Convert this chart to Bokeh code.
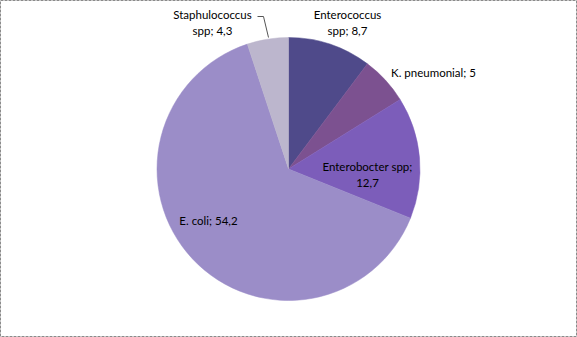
import numpy as np
from bokeh.plotting import figure
from bokeh.models import Range1d, ColumnDataSource
from bokeh.core.properties import value
from bokeh.embed import file_html
from bokeh.resources import INLINE

# ---- data ----
names = ["Enterococcus spp", "K. pneumonial", "Enterobocter spp", "E. coli", "Staphulococcus spp"]
values = [8.7, 5, 12.7, 54.2, 4.3]
colors = ["#4f4a8a", "#7c5190", "#7c5dba", "#9b8dc8", "#bcb6cd"]

# ---- layout (pixel coords, top-left origin) ----
W, H = 577, 337
CX, CY, R = 288, 168.5, 131.5
wrap = ["first", None, "last", None, "first"]
label_pos = [(347, 22), (433, 72), (367, 174), (208, 220), (212, 22)]
leader = [(257, 16), (263, 16), (268, 37)]

def fmt(v):
    return f"{v:g}".replace(".", ",")

def make_label(name, v, w):
    s = f"{name}; {fmt(v)}"
    if w == "first":
        i = s.index(" ")
        s = s[:i] + "\n" + s[i + 1:]
    elif w == "last":
        i = s.rindex(" ")
        s = s[:i] + "\n" + s[i + 1:]
    return s

vals = np.array(values, dtype=float)
frac = vals / vals.sum()
cum = np.concatenate([[0], np.cumsum(frac)])
start = np.pi / 2 - cum[1:] * 2 * np.pi
end = np.pi / 2 - cum[:-1] * 2 * np.pi

src = ColumnDataSource(dict(start=start, end=end, color=colors))

p = figure(width=W, height=H, output_backend="svg", toolbar_location=None,
           x_range=Range1d(0, W), y_range=Range1d(0, H), min_border=0)
p.axis.visible = False
p.grid.visible = False
p.outline_line_color = "#8a8a8a"
p.outline_line_dash = "3 1"
p.outline_line_width = 1
p.background_fill_color = "white"
p.border_fill_color = "white"

p.wedge(x=CX, y=H - CY, radius=R, start_angle="start", end_angle="end",
        fill_color="color", line_color="color", line_width=0.5, source=src)

lsrc = ColumnDataSource(dict(
    x=[q[0] for q in label_pos],
    y=[H - q[1] for q in label_pos],
    text=[make_label(n, v, w) for n, v, w in zip(names, values, wrap)],
))
p.text(x="x", y="y", text="text", source=lsrc, text_font=value("Lato"),
       text_font_size="11.5px", text_align="center", text_baseline="middle",
       text_color="#000000", text_line_height=1.25)

p.line([q[0] for q in leader], [H - q[1] for q in leader], line_color="#555555", line_width=1)

open("out.html", "w").write(file_html(p, INLINE))
